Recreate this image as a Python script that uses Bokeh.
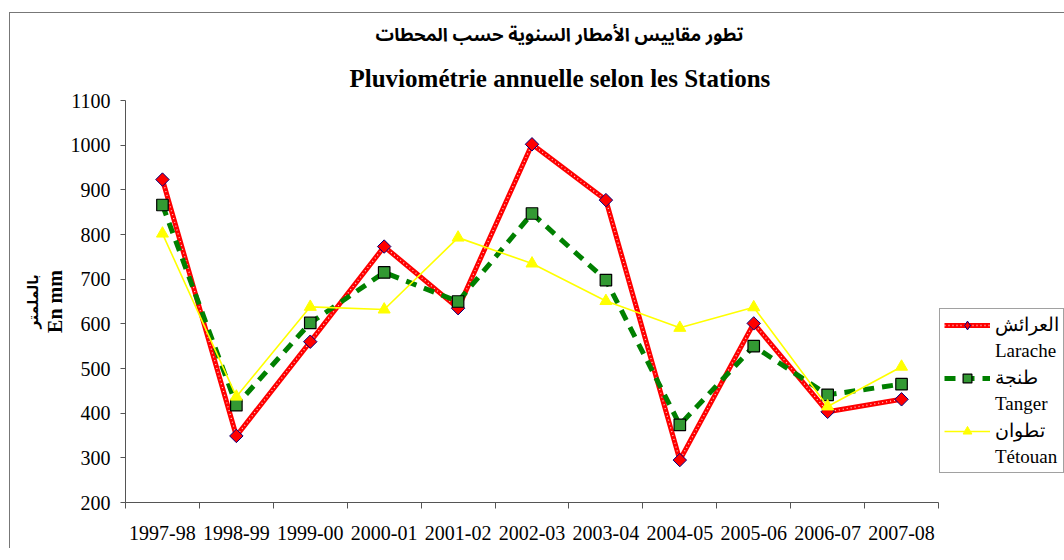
import math
from bokeh.plotting import figure
from bokeh.models import (Range1d, FixedTicker, Legend, LegendItem, Title)
from bokeh.embed import file_html
from bokeh.resources import INLINE

categories = ["1997-98", "1998-99", "1999-00", "2000-01", "2001-02", "2002-03",
              "2003-04", "2004-05", "2005-06", "2006-07", "2007-08"]
larache = [923, 349, 560, 773, 635, 1002, 877, 295, 601, 403, 431]
tanger = [866, 418, 602, 715, 650, 847, 698, 374, 550, 441, 465]
tetouan = [802, 437, 638, 632, 793, 735, 651, 591, 637, 415, 504]
y_ticks = [200, 300, 400, 500, 600, 700, 800, 900, 1000, 1100]

title_ar = "تطور مقاييس الأمطار السنوية حسب المحطات"
title_fr = "Pluviométrie annuelle selon les Stations"
ylab_ar = "بالملمتر"
ylab_fr = "En mm"
names_ar = ["العرائش", "طنجة", "تطوان"]
names_fr = ["Larache", "Tanger", "Tétouan"]

xs = [i + 0.5 for i in range(len(categories))]

SERIF = "Liberation Serif"
ARABIC = "Noto Sans Arabic, DejaVu Sans"
AXC = "#555555"

p = figure(frame_width=813, frame_height=402, x_range=Range1d(0, len(categories)),
           y_range=Range1d(y_ticks[0], y_ticks[-1]),
           output_backend="svg", toolbar_location=None,
           min_border_left=115, min_border_right=0,
           min_border_top=86, min_border_bottom=46)
p.styles = {"border-left": "1px solid #777777", "border-top": "1px solid #777777",
            "margin-left": "9px", "margin-top": "12px"}
p.outline_line_color = None
p.grid.visible = False
p.background_fill_color = "white"
p.border_fill_color = "white"

# titles (outer: Arabic, inner: French)
p.title.text = title_ar
p.title.align = "left"
p.title.offset = 250
p.title.text_font = ARABIC
p.title.text_font_style = "bold"
p.title.text_font_size = "18.3px"
p.title.text_color = "black"
p.title.standoff = 0
p.add_layout(Title(text=title_fr, align="left", offset=224, text_font=SERIF,
                   text_font_style="bold", text_font_size="25px", text_color="black",
                   standoff=18), "above")

# x axis
xa = p.xaxis[0]
xa.ticker = FixedTicker(ticks=xs, minor_ticks=list(range(len(categories) + 1)))
xa.major_label_overrides = {x: c for x, c in zip(xs, categories)}
xa.major_tick_line_color = None
xa.major_tick_out = 0
xa.major_tick_in = 0
xa.minor_tick_out = 6
xa.minor_tick_in = 0
xa.minor_tick_line_color = AXC
xa.axis_line_color = AXC
xa.major_label_standoff = 17
xa.major_label_text_font = SERIF
xa.major_label_text_font_size = "20px"
xa.major_label_text_color = "black"

ya = p.yaxis[0]
ya.ticker = FixedTicker(ticks=y_ticks)
ya.major_tick_out = 5
ya.major_tick_in = 0
ya.minor_tick_line_color = None
ya.major_tick_line_color = AXC
ya.axis_line_color = AXC
ya.major_label_standoff = 10
ya.major_label_text_font = SERIF
ya.major_label_text_font_size = "20px"
ya.major_label_text_color = "black"
ya.axis_label = ylab_fr
ya.axis_label_text_font = SERIF
ya.axis_label_text_font_style = "bold"
ya.axis_label_text_font_size = "20px"
ya.axis_label_text_color = "black"
ya.axis_label_standoff = 2
p.add_layout(Title(text=ylab_ar, align="center", text_font="DejaVu Sans",
                   text_font_style="bold", text_font_size="14px", text_color="black",
                   standoff=0), "left")

# Larache
r1a = p.line(xs, larache, line_color="#ff0000", line_width=5)
r1b = p.line(xs, larache, line_color="white", line_width=1.3, line_dash="1 3", line_alpha=0.8)
r1c = p.scatter(xs, larache, marker="square", angle=math.pi / 4, size=9.5,
                fill_color="#ff0000", line_color="#000080", line_width=1)
r1k = p.scatter(xs[:1], larache[:1], marker="diamond", size=15,
                fill_color="#ff0000", line_color="#000080", line_width=1, visible=False)
# Tanger
r2a = p.line(xs, tanger, line_color="#008000", line_width=5, line_dash="11 8")
r2c = p.scatter(xs, tanger, marker="square", size=11.5,
                fill_color="#339933", line_color="black", line_width=1.2)
# Tetouan
r3a = p.line(xs, tetouan, line_color="#ffff00", line_width=1.6)
r3c = p.scatter(xs, tetouan, marker="triangle", size=12,
                fill_color="#ffff00", line_color="#ffff00", line_width=1)
# blank legend glyph for the second (Latin) line of each entry
rb = p.line(xs[:1], larache[:1], line_alpha=0)

legend = Legend(items=[LegendItem(label=names_ar[0], renderers=[r1a, r1b, r1k]),
                       LegendItem(label=names_fr[0], renderers=[rb]),
                       LegendItem(label=names_ar[1], renderers=[r2a, r2c]),
                       LegendItem(label=names_fr[1], renderers=[rb]),
                       LegendItem(label=names_ar[2], renderers=[r3a, r3c]),
                       LegendItem(label=names_fr[2], renderers=[rb])],
                location=(1, 29), orientation="vertical")
legend.border_line_color = "#444444"
legend.border_line_width = 1
legend.background_fill_color = "white"
legend.background_fill_alpha = 1
legend.label_text_font = SERIF
legend.label_text_font_size = "19px"
legend.label_text_color = "black"
legend.label_height = 22
legend.glyph_width = 46
legend.glyph_height = 22
legend.label_standoff = 5
legend.padding = 4
legend.spacing = 4
legend.margin = 0
p.add_layout(legend, "right")

open("out.html", "w").write(file_html(p, INLINE))
